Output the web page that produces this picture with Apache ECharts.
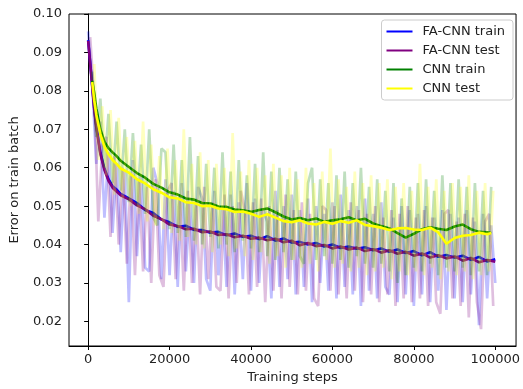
<!DOCTYPE html>
<html>
<head>
<meta charset="utf-8">
<script src="https://cdn.jsdelivr.net/npm/echarts@6/dist/echarts.min.js"></script>
<style>
  html, body { margin: 0; padding: 0; background: #fff; }
  #chart { width: 523px; height: 389px; }
</style>
</head>
<body>
<div id="chart"></div>
<script>
// tick labels
const xTicks = [0, 20000, 40000, 60000, 80000, 100000];
const yTicks = [0.02, 0.03, 0.04, 0.05, 0.06, 0.07, 0.08, 0.09, 0.10];

// raw (faint) curves: train logged every 1000 steps, test every 1000 steps offset by 500
const faTrainRawSteps = Array.from({ length: 101 }, (_, i) => i * 1000);
const faTestRawSteps = Array.from({ length: 100 }, (_, i) => 500 + i * 1000);
const faTrainRaw = [
  0.0955, 0.0820, 0.0610, 0.0720, 0.0470, 0.0640, 0.0430, 0.0610, 0.0380, 0.0590,
  0.0250, 0.0620, 0.0370, 0.0580, 0.0340, 0.0330, 0.0600, 0.0560, 0.0310, 0.0570,
  0.0320, 0.0540, 0.0290, 0.0560, 0.0330, 0.0510, 0.0300, 0.0550, 0.0520, 0.0310,
  0.0280, 0.0540, 0.0320, 0.0500, 0.0290, 0.0530, 0.0270, 0.0510, 0.0310, 0.0560,
  0.0280, 0.0520, 0.0300, 0.0490, 0.0460, 0.0260, 0.0540, 0.0290, 0.0500, 0.0310,
  0.0530, 0.0270, 0.0490, 0.0290, 0.0520, 0.0250, 0.0500, 0.0300, 0.0480, 0.0280,
  0.0510, 0.0260, 0.0530, 0.0290, 0.0490, 0.0270, 0.0500, 0.0240, 0.0520, 0.0280,
  0.0480, 0.0260, 0.0510, 0.0290, 0.0270, 0.0470, 0.0250, 0.0500, 0.0270, 0.0490,
  0.0240, 0.0480, 0.0270, 0.0500, 0.0250, 0.0470, 0.0280, 0.0490, 0.0230, 0.0480,
  0.0260, 0.0470, 0.0250, 0.0490, 0.0270, 0.0460, 0.0190, 0.0480, 0.0260, 0.0450,
  0.0300
];
const faTestRaw = [
  0.0940, 0.0780, 0.0460, 0.0660, 0.0680, 0.0420, 0.0630, 0.0400, 0.0600, 0.0350,
  0.0580, 0.0320, 0.0570, 0.0330, 0.0550, 0.0300, 0.0570, 0.0320, 0.0290, 0.0540,
  0.0560, 0.0310, 0.0530, 0.0280, 0.0540, 0.0300, 0.0520, 0.0270, 0.0550, 0.0310,
  0.0510, 0.0290, 0.0280, 0.0530, 0.0260, 0.0500, 0.0300, 0.0540, 0.0490, 0.0270,
  0.0510, 0.0290, 0.0520, 0.0250, 0.0500, 0.0280, 0.0490, 0.0260, 0.0530, 0.0290,
  0.0490, 0.0270, 0.0510, 0.0280, 0.0480, 0.0260, 0.0240, 0.0500, 0.0490, 0.0280,
  0.0500, 0.0270, 0.0470, 0.0260, 0.0510, 0.0280, 0.0490, 0.0250, 0.0480, 0.0270,
  0.0500, 0.0250, 0.0470, 0.0270, 0.0490, 0.0240, 0.0480, 0.0260, 0.0500, 0.0250,
  0.0470, 0.0260, 0.0490, 0.0240, 0.0470, 0.0250, 0.0220, 0.0480, 0.0490, 0.0260,
  0.0460, 0.0240, 0.0480, 0.0210, 0.0470, 0.0250, 0.0180, 0.0460, 0.0480, 0.0240
];

// raw CNN curves
const cnnTrainRawSteps = Array.from({ length: 99 }, (_, i) => (i + 1) * 1000);
const cnnTestRawSteps = Array.from({ length: 99 }, (_, i) => 500 + (i + 1) * 1000);
const cnnTrainRaw = [
          0.0850, 0.0680, 0.0780, 0.0600, 0.0740, 0.0560, 0.0720, 0.0540, 0.0700,
  0.0510, 0.0690, 0.0500, 0.0660, 0.0480, 0.0700, 0.0470, 0.0450, 0.0650, 0.0640,
  0.0440, 0.0660, 0.0430, 0.0620, 0.0420, 0.0680, 0.0410, 0.0630, 0.0400, 0.0610,
  0.0420, 0.0600, 0.0390, 0.0640, 0.0400, 0.0590, 0.0380, 0.0620, 0.0410, 0.0580,
  0.0390, 0.0610, 0.0380, 0.0640, 0.0370, 0.0590, 0.0360, 0.0600, 0.0380, 0.0570,
  0.0360, 0.0590, 0.0370, 0.0350, 0.0560, 0.0600, 0.0360, 0.0570, 0.0370, 0.0560,
  0.0350, 0.0580, 0.0360, 0.0590, 0.0340, 0.0560, 0.0370, 0.0600, 0.0350, 0.0550,
  0.0340, 0.0570, 0.0350, 0.0540, 0.0330, 0.0560, 0.0300, 0.0520, 0.0320, 0.0550,
  0.0340, 0.0560, 0.0330, 0.0570, 0.0350, 0.0540, 0.0320, 0.0580, 0.0340, 0.0560,
  0.0330, 0.0570, 0.0340, 0.0550, 0.0320, 0.0560, 0.0330, 0.0540, 0.0320, 0.0550
];
const cnnTestRaw = [
          0.0870, 0.0620, 0.0760, 0.0580, 0.0750, 0.0530, 0.0730, 0.0520, 0.0680,
  0.0500, 0.0670, 0.0480, 0.0720, 0.0460, 0.0660, 0.0450, 0.0630, 0.0440, 0.0650,
  0.0430, 0.0620, 0.0410, 0.0700, 0.0420, 0.0610, 0.0400, 0.0640, 0.0390, 0.0620,
  0.0380, 0.0610, 0.0400, 0.0600, 0.0370, 0.0690, 0.0390, 0.0590, 0.0370, 0.0620,
  0.0360, 0.0600, 0.0380, 0.0580, 0.0350, 0.0610, 0.0370, 0.0580, 0.0340, 0.0600,
  0.0360, 0.0570, 0.0340, 0.0600, 0.0350, 0.0560, 0.0330, 0.0590, 0.0360, 0.0650,
  0.0340, 0.0570, 0.0350, 0.0550, 0.0330, 0.0590, 0.0340, 0.0560, 0.0320, 0.0580,
  0.0330, 0.0560, 0.0340, 0.0570, 0.0310, 0.0550, 0.0330, 0.0560, 0.0320, 0.0540,
  0.0330, 0.0610, 0.0320, 0.0550, 0.0340, 0.0570, 0.0310, 0.0540, 0.0330, 0.0560,
  0.0320, 0.0550, 0.0330, 0.0580, 0.0310, 0.0540, 0.0320, 0.0560, 0.0330, 0.0540
];

// smoothed curves
const faSmoothSteps = [0, 500, 1000, 1500, 2000, 3000, 4000, 5000, 6000, 7000, 8000,
  10000, 12000, 14000, 16000, 18000, 20000, 22000, 24000, 26000, 28000,
  30000, 32000, 34000, 36000, 38000, 40000, 42000, 44000, 46000, 48000,
  50000, 52000, 54000, 56000, 58000, 60000, 62000, 64000, 66000, 68000,
  70000, 72000, 74000, 76000, 78000, 80000, 82000, 84000, 86000, 88000,
  90000, 92000, 94000, 96000, 98000, 100000];
const faTrainSmooth = [0.0932, 0.0875, 0.0815, 0.0755, 0.0710, 0.0640, 0.0598, 0.0570, 0.0552, 0.0543, 0.0532,
  0.0520, 0.0508, 0.0490, 0.0482, 0.0465, 0.0458, 0.0446, 0.0449, 0.0438, 0.0438,
  0.0431, 0.0433, 0.0424, 0.0429, 0.0420, 0.0423, 0.0414, 0.0422, 0.0410, 0.0416,
  0.0405, 0.0407, 0.0400, 0.0404, 0.0395, 0.0400, 0.0391, 0.0395, 0.0389, 0.0393,
  0.0385, 0.0390, 0.0381, 0.0387, 0.0378, 0.0383, 0.0372, 0.0380, 0.0368, 0.0373,
  0.0366, 0.0371, 0.0360, 0.0368, 0.0356, 0.0362];
const faTestSmooth = [0.0930, 0.0870, 0.0810, 0.0750, 0.0705, 0.0636, 0.0594, 0.0566, 0.0548, 0.0538, 0.0528,
  0.0518, 0.0502, 0.0492, 0.0475, 0.0466, 0.0452, 0.0448, 0.0440, 0.0441, 0.0432,
  0.0434, 0.0425, 0.0427, 0.0419, 0.0423, 0.0415, 0.0418, 0.0411, 0.0415, 0.0406,
  0.0410, 0.0398, 0.0404, 0.0396, 0.0399, 0.0390, 0.0395, 0.0387, 0.0392, 0.0383,
  0.0388, 0.0379, 0.0385, 0.0376, 0.0381, 0.0371, 0.0377, 0.0366, 0.0372, 0.0364,
  0.0369, 0.0358, 0.0365, 0.0354, 0.0360, 0.0355];

const cnnSmoothSteps = [1000, 1500, 2000, 3000, 4000, 5000, 6000, 7000, 8000,
  10000, 12000, 14000, 16000, 18000, 20000, 22000, 24000, 26000, 28000,
  30000, 32000, 34000, 36000, 38000, 40000, 42000, 44000, 46000, 48000,
  50000, 52000, 54000, 56000, 58000, 60000, 62000, 64000, 66000, 68000,
  70000, 72000, 74000, 76000, 78000, 80000, 82000, 84000, 86000, 88000,
  90000, 92000, 94000, 96000, 98000, 99000];
const cnnTrainSmooth = [0.0826, 0.0795, 0.0755, 0.0700, 0.0668, 0.0651, 0.0640, 0.0630, 0.0618,
  0.0602, 0.0586, 0.0574, 0.0558, 0.0548, 0.0536, 0.0530, 0.0520, 0.0517, 0.0508,
  0.0507, 0.0499, 0.0498, 0.0491, 0.0489, 0.0485, 0.0490, 0.0494, 0.0484, 0.0473,
  0.0465, 0.0469, 0.0463, 0.0468, 0.0459, 0.0463, 0.0466, 0.0471, 0.0463, 0.0467,
  0.0455, 0.0448, 0.0442, 0.0430, 0.0418, 0.0428, 0.0440, 0.0445, 0.0441, 0.0438,
  0.0447, 0.0452, 0.0440, 0.0433, 0.0432, 0.0430];
const cnnTestSmooth = [0.0823, 0.0775, 0.0738, 0.0688, 0.0655, 0.0635, 0.0620, 0.0610, 0.0598,
  0.0587, 0.0570, 0.0559, 0.0544, 0.0535, 0.0523, 0.0520, 0.0510, 0.0508, 0.0500,
  0.0501, 0.0494, 0.0492, 0.0485, 0.0486, 0.0480, 0.0472, 0.0479, 0.0470, 0.0461,
  0.0458, 0.0463, 0.0455, 0.0452, 0.0459, 0.0454, 0.0461, 0.0457, 0.0463, 0.0451,
  0.0448, 0.0444, 0.0438, 0.0442, 0.0443, 0.0439, 0.0438, 0.0444, 0.0432, 0.0402,
  0.0417, 0.0423, 0.0425, 0.0431, 0.0427, 0.0430];

const zip = (xs, ys) => xs.map((x, i) => [x, ys[i]]);

const font = "DejaVu Sans";

function rawSeries(name, steps, values, color) {
  return {
    name: name, type: "line", data: zip(steps, values),
    showSymbol: false, silent: true,
    lineStyle: { width: 2.7, color: color, opacity: 0.25, join: "bevel" },
  };
}
function smoothSeries(name, steps, values, color) {
  return {
    name: name, type: "line", data: zip(steps, values),
    showSymbol: false, symbol: "none",
    itemStyle: { color: color },
    lineStyle: { width: 2.6, color: color },
  };
}

const chart = echarts.init(document.getElementById("chart"));
chart.setOption({
  animation: false,
  grid: { left: 67, right: 5, top: 14, bottom: 38, show: true, borderColor: "#000", borderWidth: 1, backgroundColor: "transparent" },
  legend: {
    data: ["FA-CNN train", "FA-CNN test", "CNN train", "CNN test"],
    orient: "vertical", right: 10, top: 20,
    icon: "rect", itemWidth: 26, itemHeight: 2, itemGap: 6,
    backgroundColor: "rgba(255,255,255,0.8)", borderColor: "#ccc", borderWidth: 1, borderRadius: 3,
    padding: [5, 8, 5, 5],
    textStyle: { fontFamily: font, fontSize: 13, color: "#222", padding: [0, 0, 0, 5] },
  },
  xAxis: {
    type: "value", min: -4700, max: 105100,
    name: "Training steps", nameLocation: "middle", nameGap: 25,
    nameTextStyle: { fontFamily: font, fontSize: 13, color: "#222" },
    splitLine: { show: false },
    axisLine: { lineStyle: { color: "#000" } },
    axisTick: { customValues: xTicks, length: 4, lineStyle: { color: "#000" } },
    axisLabel: { customValues: xTicks, fontFamily: font, fontSize: 13, color: "#222", margin: 7, formatter: (v) => String(v) },
  },
  yAxis: {
    type: "value", min: 0.0136, max: 0.1,
    name: "Error on train batch", nameLocation: "middle", nameGap: 48,
    nameTextStyle: { fontFamily: font, fontSize: 13, color: "#222" },
    splitLine: { show: false },
    axisLine: { show: true, lineStyle: { color: "#000" } },
    axisTick: { show: true, customValues: yTicks, length: 4, lineStyle: { color: "#000" } },
    axisLabel: { customValues: yTicks, fontFamily: font, fontSize: 13, color: "#222", margin: 7, formatter: (v) => v.toFixed(2) },
  },
  series: [
    rawSeries("FA-CNN train raw", faTrainRawSteps, faTrainRaw, "#0000ff"),
    smoothSeries("FA-CNN train", faSmoothSteps, faTrainSmooth, "#0000ff"),
    rawSeries("FA-CNN test raw", faTestRawSteps, faTestRaw, "#800080"),
    smoothSeries("FA-CNN test", faSmoothSteps, faTestSmooth, "#800080"),
    rawSeries("CNN train raw", cnnTrainRawSteps, cnnTrainRaw, "#008000"),
    smoothSeries("CNN train", cnnSmoothSteps, cnnTrainSmooth, "#008000"),
    rawSeries("CNN test raw", cnnTestRawSteps, cnnTestRaw, "#ffff00"),
    smoothSeries("CNN test", cnnSmoothSteps, cnnTestSmooth, "#ffff00"),
  ],
});
</script>
</body>
</html>
